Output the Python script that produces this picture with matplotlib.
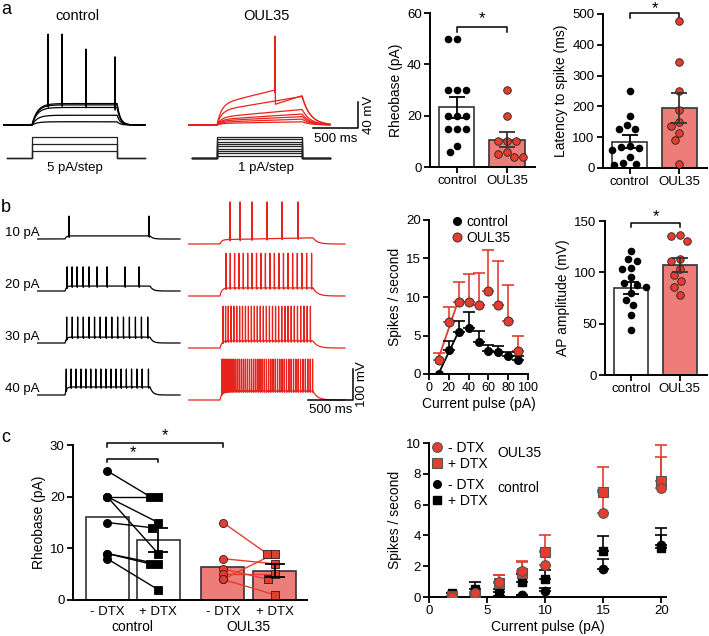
import numpy as np
import matplotlib
matplotlib.use("Agg")
import matplotlib.pyplot as plt
from matplotlib.lines import Line2D

plt.rcParams["font.family"] = ["Liberation Sans", "DejaVu Sans"]
plt.rcParams["font.size"] = 9.5
plt.rcParams["axes.linewidth"] = 1.4
for k in ("xtick", "ytick"):
    plt.rcParams[f"{k}.major.width"] = 1.3
    plt.rcParams[f"{k}.major.size"] = 4
    plt.rcParams[f"{k}.major.pad"] = 2
    plt.rcParams[f"{k}.labelsize"] = 9.5

W, H = 709, 636
RED = "#e43d2f"
RED_TRACE = "#e8231c"
PINK = "#ee7c79"
EDGE = "#333333"

# ── data: bar / dot panels ───────────────────────────────────────────────────
groups = ["control", "OUL35"]

rheo_ctrl = [50, 50, 30, 30, 30, 20, 20, 20, 15, 15, 15, 8, 6]
rheo_oul = [30, 20, 10, 10, 10, 6, 5, 4, 4]
rheo_mean = [23.3, 10.7]
rheo_sem = [4.1, 2.9]

lat_ctrl = [250, 168, 141, 128, 128, 71, 68, 65, 58, 36, 16, 14, 9]
lat_oul = [478, 343, 250, 188, 150, 136, 115, 90, 14]
lat_mean = [86, 194]
lat_sem = [22, 48]

ap_ctrl = [121, 113, 111, 104, 103, 95, 90, 88, 86, 80, 73, 68, 58, 44]
ap_oul = [136, 135, 131, 113, 111, 103, 97, 92, 86, 78]
ap_mean = [85, 107]
ap_sem = [6, 7]

cur_b = [10, 20, 30, 40, 50, 60, 70, 80, 90]
sps_ctrl = [0, 3.1, 5.4, 6.0, 4.1, 3.0, 2.8, 2.4, 1.8]
sps_ctrl_err = [0, 1.2, 1.5, 2.0, 1.5, 0.8, 0.9, 0.5, 0.5]
sps_oul = [1.8, 6.7, 9.3, 9.4, 8.9, 10.8, 9.0, 6.9, 3.0]
sps_oul_err = [0.9, 2.0, 2.6, 3.6, 4.2, 5.3, 5.7, 4.7, 1.9]

dtx_ticks = ["- DTX", "+ DTX", "- DTX", "+ DTX"]
dtx_mean = [16.1, 11.6, 6.3, 5.7]
dtx_sem_post = [2.4, 1.3]
dtx_ctrl_pre = [25, 20, 20, 15, 9, 9, 8, 20]
dtx_ctrl_post = [20, 15, 9, 14, 7, 7, 2, 20]
dtx_oul_pre = [15, 8, 6, 5, 4, 4]
dtx_oul_post = [9, 7, 4, 5, 9, 1]

cur_c = [2, 4, 6, 8, 10, 15, 20]
c_oul_pre = [0, 0.25, 1.0, 1.7, 2.1, 5.45, 7.1]
c_oul_pre_err = [0, 0.1, 0.45, 0.6, 0.9, 1.5, 2.0]
c_oul_post = [0.05, 0.1, 0.9, 1.55, 2.9, 6.8, 7.55]
c_oul_post_err = [0, 0.1, 0.55, 0.8, 1.15, 1.65, 2.35]
c_ctl_pre = [0, 0, 0.05, 0.1, 0.4, 1.8, 3.4]
c_ctl_pre_err = [0, 0, 0, 0.05, 0.2, 0.65, 0.6]
c_ctl_post = [0.25, 0.5, 0.3, 1.0, 1.2, 3.0, 3.15]
c_ctl_post_err = [0, 0.45, 0.2, 0.5, 0.55, 0.95, 1.35]

# ── data: example recordings (ms, mV above rest) ────────────────────────────
step_a = (323, 1270)
ctrl_a_levels = [5, 15, 27, 31, 33]
ctrl_a_spikes = [[], [], [1246], [924], [501, 657]]
ctrl_a_peaks = [0, 0, 105, 117, 140]
oul_a_levels = [5, 9, 13, 17, 24, 44, 64]
oul_a_spikes = [[], [], [], [], [], [], [968]]
oul_a_peaks = [0, 0, 0, 0, 0, 0, 137]
ctrl_a_steps = [5, 10, 15]
oul_a_steps = [1, 2, 3, 4, 5, 6, 7, 8, 9]

row_labels = ["10 pA", "20 pA", "30 pA", "40 pA"]
step_b_ctrl = (312, 1258)
step_b_oul = (356, 1391)
ctrl_b_plateau = [10, 16, 19, 26]
ctrl_b_peak = [74, 78, 84, 84]
ctrl_b_spikes = [
    [356, 1247],
    [334, 390, 445, 512, 579, 668, 779, 979, 1135],
    [330, 392, 452, 515, 578, 640, 703, 768, 832, 897, 962, 1028, 1095, 1162, 1232],
    [325, 378, 432, 488, 543, 598, 654, 710, 766, 822, 879, 936, 994, 1052,
     1111, 1170, 1240],
]
oul_b_plateau = [20, 26, 23, 29]
oul_b_peak = [136, 138, 135, 132]
oul_b_spikes = [
    [467, 579, 712, 879, 1046, 1224],
    [423, 470, 518, 566, 615, 664, 713, 762, 811, 861, 911, 961, 1011, 1062,
     1113, 1164, 1216, 1268, 1320, 1375],
    [390, 418, 448, 479, 510, 542, 574, 606, 639, 672, 705, 738, 771, 804, 838,
     872, 906, 940, 974, 1008, 1043, 1078, 1113, 1148, 1183, 1218, 1254, 1290,
     1326, 1362],
    [378, 391, 405, 420, 436, 453, 471, 490, 510, 530, 551, 572, 594, 616, 638,
     661, 684, 707, 730, 753, 777, 801, 825, 849, 873, 897, 921, 946, 971, 996,
     1021, 1046, 1071, 1096, 1122, 1148, 1174, 1200, 1226, 1252, 1279, 1306,
     1333, 1360, 1386],
]

MS_PER_PX = 11.13


def add_ax(fig, x0, y0, x1, y1):
    """axes from a pixel box (top-left origin)"""
    return fig.add_axes([x0 / W, 1 - y1 / H, (x1 - x0) / W, (y1 - y0) / H])


def trace(t, t_on, t_off, level, spikes, peak, tau_on=40, tau_off=40, ramp=0.0):
    v = np.zeros_like(t)
    dur = t_off - t_on
    on = (t >= t_on) & (t < t_off)
    d = t[on] - t_on
    v[on] = level * ((1 - ramp) * (1 - np.exp(-d / tau_on)) + ramp * d / dur)
    v_end = level * ((1 - ramp) * (1 - np.exp(-dur / tau_on)) + ramp)
    off = t >= t_off
    v[off] = v_end * np.exp(-(t[off] - t_off) / tau_off)
    for ts in spikes:
        v[np.abs(t - ts) <= 0.75] = peak
        v[(t > ts + 0.75) & (t < ts + 4)] -= 4
    return v


def swarm(ax, xc, vals, d=9.0):
    p0 = ax.transData.transform((0, 0))
    p1 = ax.transData.transform((1, 1))
    sx, sy = p1[0] - p0[0], p1[1] - p0[1]
    cands = sorted(np.round(np.arange(-5, 5.01, 0.1), 2) * d, key=lambda c: (abs(round(c, 3)), c))
    placed, offs = [], np.zeros(len(vals))
    for i in np.argsort(vals)[::-1]:
        y = vals[i] * sy
        for c in cands:
            if all((c - px) ** 2 + (y - py) ** 2 >= (0.97 * d) ** 2 for px, py in placed):
                break
        placed.append((c, y))
        offs[i] = c / sx
    return xc + offs


def style(ax):
    ax.spines["top"].set_visible(False)
    ax.spines["right"].set_visible(False)


def bracket(ax, x0, x1, y, tip, ystar):
    ax.plot([x0, x0, x1, x1], [y - tip, y, y, y - tip], color="black", lw=1.1, clip_on=False)
    ax.text((x0 + x1) / 2, ystar, "*", ha="center", va="center", fontsize=12, clip_on=False)


def bar_panel(ax, ctrl, oul, means, sems, ylim, yticks, ylabel, star):
    x = np.array([0, 1])
    ax.set_xlim(-0.54, 1.56)
    ax.set_ylim(*ylim)
    ax.set_yticks(yticks)
    ax.bar(x, means, width=0.7, color=["white", PINK], edgecolor=EDGE, linewidth=1.2, zorder=1)
    ax.scatter(swarm(ax, 0, np.array(ctrl, float)), ctrl, s=30, color="black", lw=0, zorder=3)
    ax.scatter(swarm(ax, 1, np.array(oul, float)), oul, s=30, color=RED, edgecolor="#222222",
               lw=0.6, zorder=3)
    for xi, m, s, c in zip(x, means, sems, ["black", EDGE]):
        ax.errorbar(xi, m, yerr=s, fmt="none", ecolor=c, elinewidth=1.3, capsize=6,
                    capthick=1.3, zorder=4)
    ax.set_xticks(x, groups)
    ax.set_ylabel(ylabel, fontsize=10, labelpad=3)
    style(ax)
    bracket(ax, 0, 1, *star)


fig = plt.figure(figsize=(W / 100, H / 100), dpi=100)

# ── panel a : traces ─────────────────────────────────────────────────────────
mv_a = 1.54
t_a = np.arange(0, 1580, 0.5)
ax = add_ax(fig, 3, 25, 183, 130)
ax.set_xlim(0, 180 * MS_PER_PX)
ax.set_ylim(-5 * mv_a, 100 * mv_a)
for lvl, spk, pk in zip(ctrl_a_levels, ctrl_a_spikes, ctrl_a_peaks):
    ax.plot(t_a, trace(t_a, *step_a, lvl, spk, pk, tau_on=60, tau_off=35), color="black", lw=0.9)
ax.axis("off")

ax = add_ax(fig, 188, 25, 370, 130)
ax.set_xlim(0, 182 * MS_PER_PX)
ax.set_ylim(-5 * mv_a, 100 * mv_a)
for lvl, spk, pk in zip(oul_a_levels, oul_a_spikes, oul_a_peaks):
    v = trace(t_a, *step_a, lvl, spk, pk, tau_on=50, tau_off=90, ramp=0.5)
    for ts in spk:
        m = (t_a > ts + 4) & (t_a < step_a[1])
        v[m] -= 22 * np.exp(-(t_a[m] - ts) / 2000)
        m2 = t_a >= step_a[1]
        v[m2] *= 0.7
    ax.plot(t_a, v, color=RED_TRACE, lw=0.9)
xb = 170 * MS_PER_PX
yb = -3 * mv_a
ax.plot([xb - 500, xb, xb], [yb, yb, yb + 40], color="black", lw=1.1, clip_on=False)
ax.text(xb - 250, yb - 5 * mv_a, "500 ms", ha="center", va="top", fontsize=9.5)
ax.text(xb + 5 * MS_PER_PX, yb + 20, "40 mV", ha="left", va="center", rotation=90, fontsize=9.5)
ax.axis("off")

# stimulus protocols
for (x0, x1, amps, lab, xl) in [(3, 183, ctrl_a_steps, "5 pA/step", 75),
                                (188, 370, oul_a_steps, "1 pA/step", 266)]:
    ax = add_ax(fig, x0, 136, x1, 162)
    ax.set_xlim(0, (x1 - x0) * MS_PER_PX)
    top = max(amps)
    px_top = 21 if top >= 9 else 16
    ax.set_ylim(-4 * top / px_top, 22 * top / px_top)
    for a in amps:
        ax.plot([45, step_a[0], step_a[0], step_a[1], step_a[1], 1580],
                [0, 0, a, a, 0, 0], color="#222222", lw=0.9)
    ax.axis("off")
    fig.text(xl / W, 1 - 168 / H, lab, ha="center", va="center", fontsize=9.5)

fig.text(77 / W, 1 - 16 / H, "control", ha="center", va="center", fontsize=10.5)
fig.text(266 / W, 1 - 16 / H, "OUL35", ha="center", va="center", fontsize=10.5)

# ── panel a : bars ───────────────────────────────────────────────────────────
ax = add_ax(fig, 430, 13, 535, 167)
bar_panel(ax, rheo_ctrl, rheo_oul, rheo_mean, rheo_sem, (0, 60), [0, 20, 40, 60],
          "Rheobase (pA)", (54.5, 1.8, 58.0))
ax = add_ax(fig, 603, 14, 707, 168)
bar_panel(ax, lat_ctrl, lat_oul, lat_mean, lat_sem, (0, 500), [0, 100, 200, 300, 400, 500],
          "Latency to spike (ms)", (503, 15, 517))

# ── panel b : traces ─────────────────────────────────────────────────────────
mv_b = 3.23
row_gap = 52 * mv_b
ax = add_ax(fig, 37, 195, 183, 410)
ax.set_xlim(0, 146 * MS_PER_PX)
ax.set_ylim(-171 * mv_b, 44 * mv_b)
t_b = np.arange(0, 1592, 0.5)
for i, (pl, pk, spk) in enumerate(zip(ctrl_b_plateau, ctrl_b_peak, ctrl_b_spikes)):
    ax.plot(t_b, trace(t_b, *step_b_ctrl, pl, spk, pk, tau_on=15, tau_off=30) - i * row_gap,
            color="black", lw=0.9)
    ax.text(-32 * MS_PER_PX, -i * row_gap + 6 * mv_b, row_labels[i], ha="left", va="center",
            fontsize=9.5, clip_on=False)
ax.axis("off")

ax = add_ax(fig, 188, 199, 370, 424)
ax.set_xlim(0, 182 * MS_PER_PX)
ax.set_ylim(-180 * mv_b, 45 * mv_b)
t_b2 = np.arange(0, 1747, 0.5)
for i, (pl, pk, spk) in enumerate(zip(oul_b_plateau, oul_b_peak, oul_b_spikes)):
    ax.plot(t_b2, trace(t_b2, *step_b_oul, pl, spk, pk, tau_on=20, tau_off=50, ramp=0.3 if i == 0 else 0)
            - i * row_gap, color=RED_TRACE, lw=0.9)
xb = 165 * MS_PER_PX
yb = -156 * mv_b
ax.plot([xb - 500, xb, xb], [yb, yb, yb + 100], color="black", lw=1.1, clip_on=False)
ax.text(xb - 250, yb - 4 * mv_b, "500 ms", ha="center", va="top", fontsize=9.5)
ax.text(xb + 3 * MS_PER_PX, yb + 50, "100 mV", ha="left", va="center", rotation=90, fontsize=9.5)
ax.axis("off")

# ── panel b : f-I curve ──────────────────────────────────────────────────────
ax = add_ax(fig, 429, 220, 528, 374)
ax.set_xlim(0, 100)
ax.set_ylim(0, 20)
ax.set_xticks([0, 20, 40, 60, 80, 100])
ax.set_yticks([0, 5, 10, 15, 20])
ax.tick_params(axis="x", labelsize=9)
for xs, ys, col in [(cur_b[:3], sps_ctrl[:3], "black"), (cur_b[:3], sps_oul[:3], RED)]:
    fit = np.polyfit(xs, ys, 1)
    ax.plot([xs[0], xs[-1]], np.polyval(fit, [xs[0], xs[-1]]), color=col, lw=1.3, zorder=2)
ax.errorbar(cur_b, sps_oul, yerr=[np.zeros(9), sps_oul_err], fmt="none", ecolor=RED,
            elinewidth=1.2, capsize=4, capthick=1.2, zorder=2)
ax.errorbar(cur_b, sps_ctrl, yerr=[np.zeros(9), sps_ctrl_err], fmt="none", ecolor="black",
            elinewidth=1.2, capsize=4, capthick=1.2, zorder=2)
ax.plot(cur_b, sps_oul, "o", ms=6.5, mfc=RED, mec="#333333", mew=0.7, zorder=3)
ax.plot(cur_b, sps_ctrl, "o", ms=5.5, mfc="black", mec="black", zorder=3)
h = [Line2D([], [], ls="none", marker="o", ms=5.5, mfc="black", mec="black"),
     Line2D([], [], ls="none", marker="o", ms=6.5, mfc=RED, mec="#333333", mew=0.7)]
ax.legend(h, groups, loc="upper left", bbox_to_anchor=(0.17, 1.07), frameon=False,
          handlelength=0.8, handletextpad=0.3, labelspacing=0.15, borderaxespad=0, fontsize=10)
ax.set_ylabel("Spikes / second", fontsize=10, labelpad=3)
ax.set_xlabel("Current pulse (pA)", fontsize=10, labelpad=2)
style(ax)

# ── panel b : AP amplitude ───────────────────────────────────────────────────
ax = add_ax(fig, 605, 221, 707, 375)
bar_panel(ax, ap_ctrl, ap_oul, ap_mean, ap_sem, (0, 150), [0, 50, 100, 150],
          "AP amplitude (mV)", (148.5, 4, 154.5))

# ── panel c : rheobase ± DTX ─────────────────────────────────────────────────
ax = add_ax(fig, 73, 445, 307, 600)
xc = np.array([0, 1, 2.27, 3.29])
ax.set_xlim(-0.67, 3.92)
ax.set_ylim(0, 30)
ax.set_yticks([0, 10, 20, 30])
ax.bar(xc, dtx_mean, width=0.84, color=["white", "white", PINK, PINK], edgecolor=EDGE,
       linewidth=1.2, zorder=1)
for (pre, post, x0, x1, col, fc) in [(dtx_ctrl_pre, dtx_ctrl_post, xc[0], xc[1], "black", "black"),
                                     (dtx_oul_pre, dtx_oul_post, xc[2], xc[3], RED, RED)]:
    xpost = swarm(ax, x1, np.array(post, float), d=8.0)
    for a, b, xp in zip(pre, post, xpost):
        ax.plot([x0, xp], [a, b], color=col, lw=1.0, zorder=2)
    ax.scatter([x0] * len(pre), pre, s=34, marker="o", color=fc,
               edgecolor="#222222" if col == RED else "black", lw=0.6, zorder=3)
    ax.scatter(xpost, post, s=38, marker="s", color=fc,
               edgecolor="#222222" if col == RED else "black", lw=0.6, zorder=3)
ax.errorbar(xc[[1, 3]], [dtx_mean[1], dtx_mean[3]], yerr=dtx_sem_post, fmt="none",
            ecolor="black", elinewidth=1.3, capsize=7, capthick=1.3, zorder=4)
ax.set_xticks(xc, dtx_ticks)
ax.tick_params(axis="x", length=0, pad=4)
ax.set_ylabel("Rheobase (pA)", fontsize=10, labelpad=3)
tr = ax.get_xaxis_transform()
ax.text((xc[0] + xc[1]) / 2, -0.175, "control", transform=tr, ha="center", va="center", fontsize=10)
ax.text((xc[2] + xc[3]) / 2, -0.175, "OUL35", transform=tr, ha="center", va="center", fontsize=10)
style(ax)
bracket(ax, xc[0], xc[1], 27.2, 0.5, 28.6)
bracket(ax, xc[0], xc[2], 30.3, 0.6, 31.8)

# ── panel c : f-I ± DTX ──────────────────────────────────────────────────────
ax = add_ax(fig, 429, 443, 666, 597)
ax.set_xlim(0, 20.4)
ax.set_ylim(0, 10)
ax.set_xticks([0, 5, 10, 15, 20])
ax.set_yticks([0, 2, 4, 6, 8, 10])
z = np.zeros(len(cur_c))
for ys, err, col in [(c_oul_post, c_oul_post_err, RED), (c_oul_pre, c_oul_pre_err, RED),
                     (c_ctl_post, c_ctl_post_err, "black"), (c_ctl_pre, c_ctl_pre_err, "black")]:
    ax.errorbar(cur_c, ys, yerr=[z, err], fmt="none", ecolor=col, elinewidth=1.2,
                capsize=4, capthick=1.2, zorder=2)
ax.plot(cur_c, c_ctl_post, "s", ms=6, mfc="black", mec="black", zorder=3)
ax.plot(cur_c, c_ctl_pre, "o", ms=6, mfc="black", mec="black", zorder=3)
ax.plot(cur_c, c_oul_post, "s", ms=7, mfc=RED, mec="#555555", mew=0.8, zorder=3)
ax.plot(cur_c, c_oul_pre, "o", ms=7, mfc=RED, mec="#555555", mew=0.8, zorder=3)
leg_red = [Line2D([], [], ls="none", marker="o", ms=7, mfc=RED, mec="#555555", mew=0.8),
           Line2D([], [], ls="none", marker="s", ms=7, mfc=RED, mec="#555555", mew=0.8)]
leg_blk = [Line2D([], [], ls="none", marker="o", ms=5.5, mfc="black", mec="black"),
           Line2D([], [], ls="none", marker="s", ms=5.5, mfc="black", mec="black")]
l1 = ax.legend(leg_red, ["- DTX", "+ DTX"], loc="upper left", bbox_to_anchor=(-0.015, 1.05),
               frameon=False, handlelength=0.8, handletextpad=0.4, labelspacing=0.15,
               borderaxespad=0, fontsize=10)
ax.add_artist(l1)
ax.legend(leg_blk, ["- DTX", "+ DTX"], loc="upper left", bbox_to_anchor=(-0.015, 0.81),
          frameon=False, handlelength=0.8, handletextpad=0.4, labelspacing=0.15,
          borderaxespad=0, fontsize=10)
ax.text(0.29, 0.935, "OUL35", transform=ax.transAxes, ha="left", va="center", fontsize=10)
ax.text(0.29, 0.705, "control", transform=ax.transAxes, ha="left", va="center", fontsize=10)
ax.set_ylabel("Spikes / second", fontsize=10, labelpad=3)
ax.set_xlabel("Current pulse (pA)", fontsize=10, labelpad=2)
style(ax)

# panel letters
for lab, (px, py) in zip("abc", [(6, 10), (6, 207), (6, 437)]):
    fig.text(px / W, 1 - py / H, lab, ha="center", va="center", fontsize=13)

fig.savefig("out.png", dpi=100)
